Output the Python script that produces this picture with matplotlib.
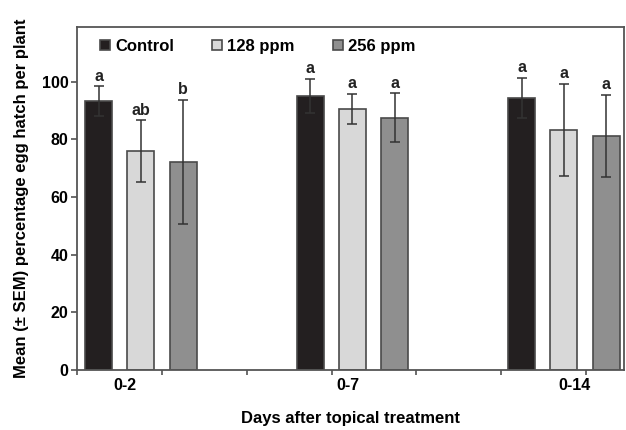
""" Egg hatch per plant after topical treatment
"""
import numpy as np
import matplotlib
matplotlib.use('Agg')
import matplotlib.pyplot as plt

plt.rcParams['font.family'] = ['Liberation Sans', 'DejaVu Sans']
plt.rcParams['font.weight'] = 'bold'

# data
days = ['0-2', '0-7', '0-14']
series = ['Control', '128 ppm', '256 ppm']
control = [93.3, 95.1, 94.5]
ppm128 = [75.9, 90.6, 83.2]
ppm256 = [72.2, 87.6, 81.2]
control_err = [5.1, 5.8, 6.9]
ppm128_err = [10.7, 5.3, 16.0]
ppm256_err = [21.6, 8.4, 14.2]
control_sig = ['a', 'a', 'a']
ppm128_sig = ['ab', 'a', 'a']
ppm256_sig = ['b', 'a', 'a']

# fig params
colors = ['#231f20', '#d8d8d8', '#8f8f8f']
edge = '#4a4a4a'
fsize_tick = 11.5
fsize_label = 12
fsize_sig = 11.5
bar_w = 0.128
offset = 0.2

fig = plt.figure(figsize=(6.26, 4.30), dpi=100)
ax = fig.add_axes([0.1238, 0.1395, 0.8730, 0.7977])

x = np.arange(len(days))
means = [control, ppm128, ppm256]
errs = [control_err, ppm128_err, ppm256_err]
sigs = [control_sig, ppm128_sig, ppm256_sig]
handles = []
for i in range(3):
    xi = x + (i - 1) * offset
    b = ax.bar(xi, means[i], width=bar_w, color=colors[i], edgecolor=edge,
               linewidth=1.2, label=series[i], zorder=2)
    handles.append(b)
    ax.errorbar(xi, means[i], yerr=errs[i], fmt='none', ecolor='#333333',
                elinewidth=1.1, capsize=3.5, capthick=1.1, zorder=3)
    for xx, m, e, s in zip(xi, means[i], errs[i], sigs[i]):
        ax.text(xx, m + e + 2.0, s, ha='center', va='baseline',
                fontsize=fsize_sig, fontweight='bold', color='#222222')

ax.set_xlim(-0.30, 2.284)
ax.set_ylim(0, 119)
ax.set_yticks(range(0, 101, 20))
ax.tick_params(axis='y', labelsize=fsize_tick, length=4.5, width=1.1,
               color='#444444', pad=2)

# category labels sit between the boundary ticks
ax.set_xticks([-0.076, 0.979, 2.052])
ax.set_xticklabels(days, fontsize=fsize_tick)
ax.tick_params(axis='x', which='major', length=0, pad=6)
ax.set_xticks(np.arange(-0.30, 2.3, 0.4005), minor=True)
ax.tick_params(axis='x', which='minor', length=3.5, width=1.1,
               color='#444444', direction='out')

for sp in ax.spines.values():
    sp.set_color('#555555')
    sp.set_linewidth(1.3)

ax.set_ylabel('Mean (± SEM) percentage egg hatch per plant',
              fontsize=fsize_label, fontweight='bold')
ax.yaxis.set_label_coords(-0.089, 0.5)
ax.set_xlabel('Days after topical treatment', fontsize=fsize_label,
              fontweight='bold')
ax.xaxis.set_label_coords(0.5, -0.12)

leg = ax.legend(handles=handles, loc='upper left', ncol=3, frameon=False,
                bbox_to_anchor=(0.035, 0.975), borderaxespad=0, borderpad=0.2,
                handlelength=0.6, handleheight=0.6, handletextpad=0.3,
                columnspacing=2.3, prop={'size': fsize_label, 'weight': 'bold'})

fig.savefig('out.png', dpi=100, facecolor='white')
